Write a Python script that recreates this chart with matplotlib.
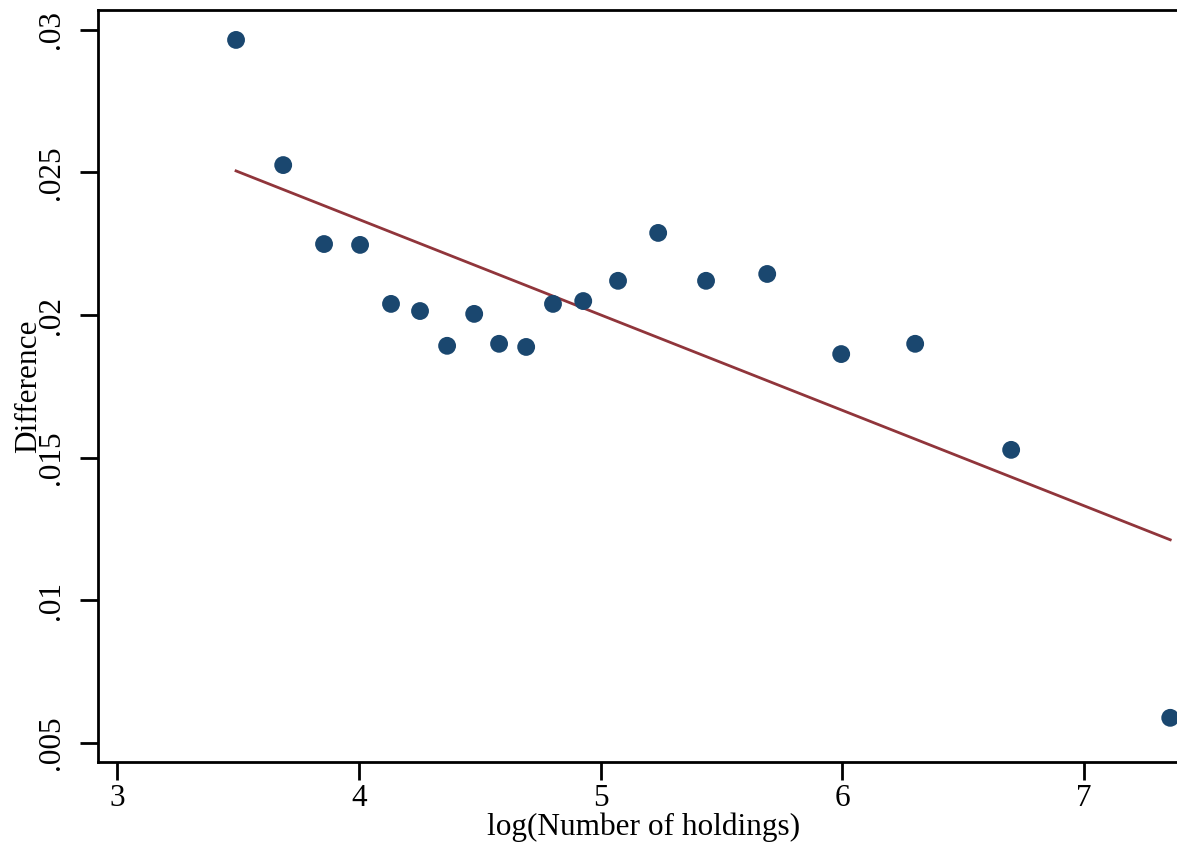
import matplotlib
matplotlib.use('Agg')
import matplotlib.pyplot as plt
import numpy as np

plt.rcParams['font.family'] = ['Liberation Serif', 'DejaVu Serif']

# binned means
log_holdings = [3.492, 3.687, 3.856, 4.005, 4.133, 4.253, 4.365, 4.477, 4.580, 4.692,
                4.803, 4.928, 5.072, 5.238, 5.436, 5.689, 5.995, 6.301, 6.698, 7.356]
difference = [0.02965, 0.02526, 0.02249, 0.02246, 0.02039, 0.02014, 0.01892, 0.02004, 0.01899, 0.01888,
              0.02039, 0.02049, 0.02120, 0.02288, 0.02120, 0.02144, 0.01863, 0.01899, 0.01527, 0.00587]

# linear fit shown on the chart
fit_intercept = 0.03675
fit_slope = -0.003349

xticks = [3, 4, 5, 6, 7]
yticks = [0.005, 0.01, 0.015, 0.02, 0.025, 0.03]
ytick_labels = ['.005', '.01', '.015', '.02', '.025', '.03']

fig = plt.figure(figsize=(11.77, 8.46), dpi=100)
ax = fig.add_axes([98/1177, 84/846, 1 - 98/1177, 752/846])

x = np.array(log_holdings)
xl = np.array([x.min(), x.max()])
ax.plot(xl, fit_intercept + fit_slope*xl, color='#90353b', lw=2, zorder=2)
ax.scatter(x, difference, s=165, color='#1a476f', edgecolors='none', zorder=3, clip_on=False)

ax.set_xlim(2.921, 7.384)
ax.set_ylim(0.00432, 0.0307)
ax.set_xticks(xticks)
ax.set_xticklabels([str(t) for t in xticks])
ax.set_yticks(yticks)
ax.set_yticklabels(ytick_labels, rotation=90, va='center')

ax.spines['right'].set_visible(False)
for s in ['left', 'bottom', 'top']:
    ax.spines[s].set_linewidth(2)
ax.tick_params(axis='both', length=13, width=2, labelsize=22.5, color='black')
ax.tick_params(axis='y', pad=10)
ax.tick_params(axis='x', pad=3)

ax.set_xlabel('log(Number of holdings)', fontsize=22.5)
ax.set_ylabel('Difference', fontsize=22.5)
ax.xaxis.set_label_coords(0.5056, -0.0665)
ax.yaxis.set_label_coords(-0.051, 0.5)

fig.savefig('out.png', dpi=100)
